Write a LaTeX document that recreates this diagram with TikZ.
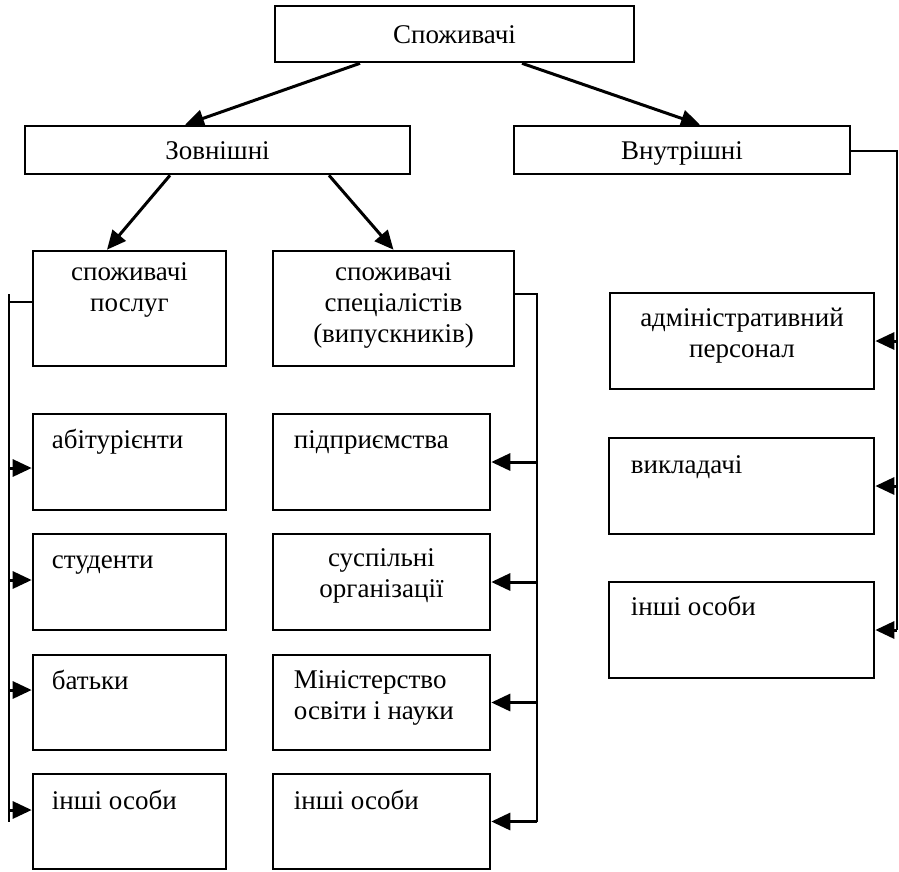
\documentclass[tikz,border=0pt]{standalone}
\usepackage{fontspec}
\setmainfont{Liberation Serif}
\usetikzlibrary{calc}
\usetikzlibrary{positioning,arrows.meta}

\begin{document}
\begin{tikzpicture}[x=1pt, y=-1pt, font=\fontsize{27}{31}\selectfont,
  box/.style={draw, line width=2.6pt, inner sep=0pt, minimum width=#1},
  head/.style={text height=19pt, text depth=0pt},
  txt/.style={inner sep=0pt},
  line/.style={line width=2.6pt},
  arr/.style={line width=3pt, -{Triangle[length=19pt,width=17pt]}}]
\useasboundingbox (0,0) rectangle (899,871);

\node[box=359, minimum height=56, head] (spozhyvachi) at (454.5, 34) {Споживачі};
\node[box=385, minimum height=48, head] (zovnishni) at (217.5, 150) {Зовнішні};
\node[box=336, minimum height=48, head] (vnutrishni) at (682, 150) {Внутрішні};

\node[box=193, minimum height=115] (poslugy) at (129.5, 308.5) {};
\node[box=241, minimum height=115] (specialisty) at (393.5, 308.5) {};

\node[box=193, minimum height=96] (abiturienty) at (129.5, 462) {};
\node[box=193, minimum height=96] (studenty) at (129.5, 582) {};
\node[box=193, minimum height=95] (batky) at (129.5, 702.5) {};
\node[box=193, minimum height=95] (inshi1) at (129.5, 821.5) {};

\node[box=217, minimum height=96] (pidpryiemstva) at (381.5, 462) {};
\node[box=217, minimum height=96] (suspilni) at (381.5, 582) {};
\node[box=217, minimum height=95] (ministerstvo) at (381.5, 702.5) {};
\node[box=217, minimum height=95] (inshi2) at (381.5, 821.5) {};

\node[box=264, minimum height=96] (admin) at (742, 341) {};
\node[box=265, minimum height=96] (vykladachi) at (741.5, 486) {};
\node[box=265, minimum height=96] (inshi3) at (741.5, 630) {};

\node[txt, anchor=north, align=center] (poslugy-t) at ([yshift=-9.3pt]poslugy.north) {\strut споживачі\\послуг};
\node[txt, anchor=north, align=center] (specialisty-t) at ([yshift=-9.3pt]specialisty.north) {\strut споживачі\\спеціалістів\\(випускників)};
\node[txt, anchor=north west] (abiturienty-t) at ([shift={(20,14.3)}]abiturienty.north west) {\strut абітурієнти};
\node[txt, anchor=north west] (studenty-t) at ([shift={(20,14.3)}]studenty.north west) {\strut студенти};
\node[txt, anchor=north west] (batky-t) at ([shift={(20,14.3)}]batky.north west) {\strut батьки};
\node[txt, anchor=north west] (inshi1-t) at ([shift={(20,15.3)}]inshi1.north west) {\strut інші особи};
\node[txt, anchor=north west] (pidpryiemstva-t) at ([shift={(22,14.3)}]pidpryiemstva.north west) {\strut підприємства};
\node[txt, anchor=north, align=center] (suspilni-t) at ([yshift=-12.3pt]suspilni.north) {\strut суспільні\\організації};
\node[txt, anchor=north west, align=left] (ministerstvo-t) at ([shift={(22,13.3)}]ministerstvo.north west) {\strut Міністерство\\освіти і науки};
\node[txt, anchor=north west] (inshi2-t) at ([shift={(22,15.3)}]inshi2.north west) {\strut інші особи};
\node[txt, anchor=north, align=center] (admin-t) at ([yshift=-13.3pt]admin.north) {\strut адміністративний\\персонал};
\node[txt, anchor=north west] (vykladachi-t) at ([shift={(23,15.3)}]vykladachi.north west) {\strut викладачі};
\node[txt, anchor=north west] (inshi3-t) at ([shift={(23,13.3)}]inshi3.north west) {\strut інші особи};

\draw[arr] ([xshift=-94.5pt]spozhyvachi.south) -- ([xshift=-32.5pt]zovnishni.north);
\draw[arr] ([xshift=67.5pt]spozhyvachi.south) -- ([xshift=18pt]vnutrishni.north);
\draw[arr] ([xshift=-47.5pt]zovnishni.south) -- ([xshift=-22.5pt]poslugy.north);
\draw[arr] ([xshift=111.5pt]zovnishni.south) -- (specialisty.north);

\coordinate (ltop) at (9, 294);
\coordinate (ltick) at (9, 302);
\coordinate (lbot) at (9, 822);
\draw[line] (ltop) -- (lbot);
\draw[line] (poslugy.west |- ltick) -- (ltick);
\draw[arr] ([yshift=-6pt]abiturienty.west -| ltop) -- ([yshift=-6pt]abiturienty.west);
\draw[arr] ([yshift=2pt]studenty.west -| ltop) -- ([yshift=2pt]studenty.west);
\draw[arr] ([yshift=12.5pt]batky.west -| ltop) -- ([yshift=12.5pt]batky.west);
\draw[arr] ([yshift=11.5pt]inshi1.west -| ltop) -- ([yshift=11.5pt]inshi1.west);

\coordinate (mtop) at (537, 294);
\draw[line] (specialisty.east |- mtop) -- (mtop) -- (mtop |- inshi2.east);
\draw[arr] (mtop |- pidpryiemstva.east) -- (pidpryiemstva.east);
\draw[arr] (mtop |- suspilni.east) -- (suspilni.east);
\draw[arr] (mtop |- ministerstvo.east) -- (ministerstvo.east);
\draw[arr] (mtop |- inshi2.east) -- (inshi2.east);

\coordinate (rtop) at (897, 151);
\draw[line] (vnutrishni.east |- rtop) -- (rtop) -- (rtop |- inshi3.east);
\draw[arr] (rtop |- admin.east) -- (admin.east);
\draw[arr] (rtop |- vykladachi.east) -- (vykladachi.east);
\draw[arr] (rtop |- inshi3.east) -- (inshi3.east);
\end{tikzpicture}
\end{document}
